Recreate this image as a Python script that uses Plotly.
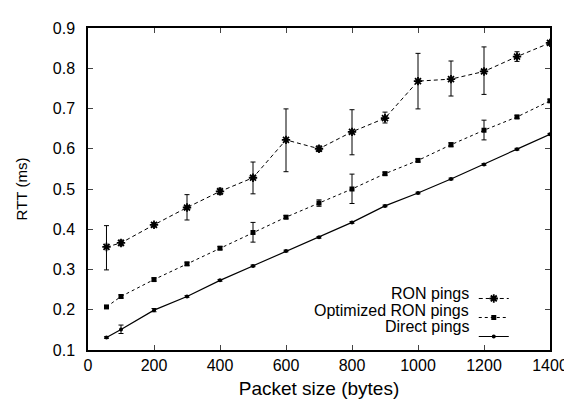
import plotly.graph_objects as go

sizes = [56, 100, 200, 300, 400, 500, 600, 700, 800, 900, 1000, 1100, 1200, 1300, 1400]

ron = [0.356, 0.366, 0.411, 0.454, 0.494, 0.528, 0.622, 0.600, 0.642, 0.676, 0.768, 0.773, 0.792, 0.829, 0.863]
ron_hi = [0.409, 0.373, 0.416, 0.486, 0.502, 0.567, 0.699, 0.607, 0.697, 0.691, 0.837, 0.818, 0.853, 0.841, 0.868]
ron_lo = [0.299, 0.359, 0.406, 0.423, 0.486, 0.488, 0.543, 0.593, 0.585, 0.664, 0.699, 0.731, 0.735, 0.817, 0.858]

opt = [0.207, 0.233, 0.275, 0.314, 0.353, 0.392, 0.430, 0.465, 0.500, 0.538, 0.571, 0.610, 0.646, 0.679, 0.719]
opt_hi = [0.210, 0.237, 0.279, 0.318, 0.357, 0.417, 0.434, 0.473, 0.537, 0.542, 0.575, 0.615, 0.671, 0.683, 0.723]
opt_lo = [0.204, 0.229, 0.271, 0.310, 0.349, 0.368, 0.426, 0.457, 0.464, 0.534, 0.567, 0.605, 0.622, 0.675, 0.715]

direct = [0.131, 0.151, 0.199, 0.233, 0.273, 0.309, 0.346, 0.380, 0.417, 0.458, 0.490, 0.525, 0.561, 0.599, 0.636]
direct_hi = [0.133, 0.162, 0.203, 0.235, 0.275, 0.311, 0.348, 0.382, 0.419, 0.460, 0.492, 0.527, 0.563, 0.601, 0.638]
direct_lo = [0.129, 0.141, 0.195, 0.231, 0.271, 0.307, 0.344, 0.378, 0.415, 0.456, 0.488, 0.523, 0.559, 0.597, 0.634]

series_names = ["RON pings", "Optimized RON pings", "Direct pings"]
x_ticks = [0, 200, 400, 600, 800, 1000, 1200, 1400]
y_ticks = [0.1, 0.2, 0.3, 0.4, 0.5, 0.6, 0.7, 0.8, 0.9]


def err(vals, hi, lo):
    return dict(type="data", symmetric=False,
                array=[h - v for h, v in zip(hi, vals)],
                arrayminus=[v - l for v, l in zip(vals, lo)],
                color="black", thickness=1, width=2.5)


styles = [
    dict(line=dict(color="black", width=1, dash="4px,3px"),
         marker=dict(symbol="asterisk-open", size=7, color="black", line=dict(width=1.8, color="black"))),
    dict(line=dict(color="black", width=1, dash="dot"),
         marker=dict(symbol="square", size=5, color="black")),
    dict(line=dict(color="black", width=1.2),
         marker=dict(symbol="circle", size=4, color="black")),
]
data = [(ron, ron_hi, ron_lo), (opt, opt_hi, opt_lo), (direct, direct_hi, direct_lo)]

fig = go.Figure()
for name, st, (v, hi, lo) in zip(series_names, styles, data):
    fig.add_trace(go.Scatter(x=sizes, y=v, name=name, mode="lines+markers",
                             showlegend=False, error_y=err(v, hi, lo), **st))

# legend samples (right-hand keys, gnuplot style); labels placed as text to their left
for name, st in zip(series_names, styles):
    fig.add_trace(go.Scatter(x=[None], y=[None], name=" ", mode="lines+markers",
                             showlegend=True, hoverinfo="skip", **st))

font = "Liberation Sans, Arial, Helvetica, sans-serif"
legend_top = 0.175
row = 0.051
for i, name in enumerate(series_names):
    fig.add_annotation(xref="paper", yref="paper", x=0.83, y=legend_top - i * row,
                       xanchor="right", yanchor="middle", text=name, showarrow=False,
                       font=dict(size=16, family=font, color="black"))

fig.update_layout(
    width=572, height=400,
    margin=dict(l=80, r=18, t=14, b=57),
    paper_bgcolor="white", plot_bgcolor="white",
    font=dict(family=font, size=16, color="black"),
    showlegend=True,
    legend=dict(x=0.835, y=legend_top + 0.03, xanchor="left", yanchor="top",
                bgcolor="rgba(0,0,0,0)", font=dict(size=9),
                tracegroupgap=0, itemwidth=30),
    xaxis=dict(range=[0, 1400], tickvals=x_ticks, ticks="inside", ticklen=5,
               showline=True, linecolor="black", linewidth=1.5, mirror="ticks",
               showgrid=False, zeroline=False,
               title=dict(text="Packet size (bytes)", standoff=9),
               tickfont=dict(size=16)),
    yaxis=dict(range=[0.1, 0.9], tickvals=y_ticks, tickformat=".1f", ticks="inside", ticklen=5,
               ticklabelstandoff=8,
               showline=True, linecolor="black", linewidth=1.5, mirror="ticks",
               showgrid=False, zeroline=False,
               title=dict(text="RTT (ms)", standoff=22, font=dict(size=15)),
               tickfont=dict(size=16)),
)

fig.write_html("out.html")
